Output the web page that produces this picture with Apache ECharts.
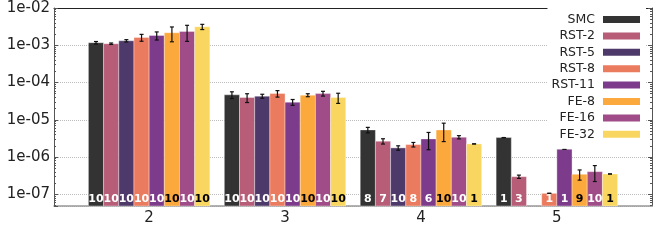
<!DOCTYPE html>
<html>
<head>
<meta charset="utf-8">
<script src="https://cdn.jsdelivr.net/npm/echarts@6/dist/echarts.min.js"></script>
<style>
html,body{margin:0;padding:0;background:#fff;}
#chart{width:664px;height:247px;}
</style>
</head>
<body>
<div id="chart"></div>
<script>
// ---- data ----
const categories = ['2', '3', '4', '5'];
const seriesNames = ['SMC', 'RST-2', 'RST-5', 'RST-8', 'RST-11', 'FE-8', 'FE-16', 'FE-32'];

const meanSMC  = [1.17e-3, 4.67e-5, 5.35e-6, 3.33e-6];
const errSMC   = [0.09e-3, 0.96e-5, 0.90e-6, 0];
const countSMC = [10, 10, 8, 1];

const meanRST2  = [1.10e-3, 3.95e-5, 2.66e-6, 2.97e-7];
const errRST2   = [0.05e-3, 1.05e-5, 0.43e-6, 0.30e-7];
const countRST2 = [10, 10, 7, 3];

const meanRST5  = [1.32e-3, 4.31e-5, 1.76e-6, null];
const errRST5   = [0.095e-3, 0.53e-5, 0.24e-6, null];
const countRST5 = [10, 10, 10, null];

const meanRST8  = [1.62e-3, 5.06e-5, 2.16e-6, 1.06e-7];
const errRST8   = [0.34e-3, 1.00e-5, 0.30e-6, 0];
const countRST8 = [10, 10, 8, 1];

const meanRST11  = [1.83e-3, 2.97e-5, 3.07e-6, 1.62e-6];
const errRST11   = [0.45e-3, 0.53e-5, 1.50e-6, 0];
const countRST11 = [10, 10, 6, 1];

const meanFE8  = [2.17e-3, 4.58e-5, 5.35e-6, 3.45e-7];
const errFE8   = [0.93e-3, 0.42e-5, 2.75e-6, 1.05e-7];
const countFE8 = [10, 10, 10, 9];

const meanFE16  = [2.35e-3, 5.06e-5, 3.41e-6, 4.05e-7];
const errFE16   = [1.08e-3, 0.74e-5, 0.34e-6, 1.85e-7];
const countFE16 = [10, 10, 10, 10];

const meanFE32  = [3.14e-3, 3.95e-5, 2.25e-6, 3.51e-7];
const errFE32   = [0.50e-3, 1.20e-5, 0, 0];
const countFE32 = [10, 10, 1, 1];

const yTickExponents = [-7, -6, -5, -4, -3, -2];

// ---- style ----
const colors = ['#333333', '#b75d78', '#4e3a6a', '#eb7b5f', '#7c3b8b', '#fba83c', '#a04c88', '#f9d65f'];
const labelColors = ['#fff', '#fff', '#fff', '#fff', '#fff', '#000', '#fff', '#000'];
const Y_MIN = 4.85e-8, Y_MAX = 1e-2;
const X_MIN = 1.3, X_MAX = 5.7;
const BAR_W = 0.1117;
const FONT = 'DejaVu Sans';

const means = [meanSMC, meanRST2, meanRST5, meanRST8, meanRST11, meanFE8, meanFE16, meanFE32];
const errs = [errSMC, errRST2, errRST5, errRST8, errRST11, errFE8, errFE16, errFE32];
const counts = [countSMC, countRST2, countRST5, countRST8, countRST11, countFE8, countFE16, countFE32];

const minorTicks = [];
for (let e = -8; e <= -3; e++) {
  for (let k = 2; k <= 9; k++) {
    const lv = e + Math.log10(k);
    if (lv > Math.log10(Y_MIN) && lv < -2) minorTicks.push(lv);
  }
}

function makeRender(s) {
  return function (params, api) {
    const x = api.value(0), v = api.value(1), e = api.value(2), n = api.value(3);
    if (v == null || isNaN(v)) return null;
    const top = api.coord([x, v]);
    const unit = api.coord([x + 1, v])[0] - top[0];
    const bw = unit * BAR_W;
    const left = top[0] + (s - 4) * bw;
    const cs = params.coordSys;
    const bottom = cs.y + cs.height;
    const cx = left + bw / 2;
    const yHi = api.coord([x, v + e])[1];
    const yLo = api.coord([x, Math.max(v - e, Y_MIN)])[1];
    const cap = 2;
    return {
      type: 'group',
      children: [
        {type: 'rect', shape: {x: left, y: top[1], width: bw, height: bottom - top[1]},
         style: {fill: colors[s], stroke: 'rgba(255,255,255,0.45)', lineWidth: 0.8}},
        {type: 'line', shape: {x1: cx, y1: yHi, x2: cx, y2: yLo}, style: {stroke: '#111', lineWidth: 1.2}},
        {type: 'line', shape: {x1: cx - cap, y1: yHi, x2: cx + cap, y2: yHi}, style: {stroke: '#111', lineWidth: 1.2}},
        {type: 'line', shape: {x1: cx - cap, y1: yLo, x2: cx + cap, y2: yLo}, style: {stroke: '#111', lineWidth: 1.2}},
        {type: 'text', x: cx, y: bottom - 6.5,
         style: {text: String(n), fill: labelColors[s], font: 'bold 11px "' + FONT + '"', align: 'center', verticalAlign: 'middle'}}
      ]
    };
  };
}

const series = seriesNames.map(function (name, s) {
  return {
    type: 'custom',
    name: name,
    xAxisIndex: 0,
    yAxisIndex: 0,
    itemStyle: {color: colors[s]},
    encode: {x: 0, y: 1},
    data: categories.map(function (c, i) {
      return [Number(c), means[s][i], errs[s][i], counts[s][i]];
    }),
    renderItem: makeRender(s)
  };
});

function fmtExp(v) {
  const e = Math.log10(v);
  const r = Math.round(e);
  if (Math.abs(e - r) > 1e-6) return '';
  const a = Math.abs(r);
  return '1e' + (r < 0 ? '-' : '+') + (a < 10 ? '0' + a : String(a));
}

const chart = echarts.init(document.getElementById('chart'), null, {renderer: 'canvas'});
chart.setOption({
  animation: false,
  backgroundColor: '#fff',
  textStyle: {fontFamily: FONT},
  grid: {left: 54, right: 12, top: 8, bottom: 41, containLabel: false},
  legend: {
    orient: 'vertical',
    align: 'right',
    right: 18,
    top: 5,
    padding: [8, 6, 8, 4],
    itemGap: 3.4,
    itemWidth: 37,
    itemHeight: 7,
    icon: 'rect',
    backgroundColor: '#fff',
    data: seriesNames,
    textStyle: {fontFamily: FONT, fontSize: 12.5, color: '#222', padding: [0, 3, 0, 0]}
  },
  xAxis: [
    {
      type: 'value', min: X_MIN, max: X_MAX, position: 'bottom',
      axisLine: {show: true, lineStyle: {color: '#999', width: 1.5}},
      axisTick: {show: false},
      splitLine: {show: false},
      axisLabel: {
        customValues: categories.map(Number),
        formatter: function (v) { return String(Math.round(v)); },
        fontFamily: FONT, fontSize: 15, color: '#222', margin: 5
      }
    },
    {
      type: 'value', min: X_MIN, max: X_MAX, position: 'top',
      axisLine: {show: true, lineStyle: {color: '#222', width: 1}},
      axisTick: {show: false}, axisLabel: {show: false}, splitLine: {show: false}
    }
  ],
  yAxis: [
    {
      type: 'log', min: Y_MIN, max: Y_MAX, position: 'left',
      axisLine: {show: true, lineStyle: {color: '#555', width: 1}},
      axisTick: {show: true, inside: true, length: 4, lineStyle: {color: '#555'}},
      splitLine: {show: true, lineStyle: {color: '#bbb', type: [1, 1], width: 1}},
      axisLabel: {formatter: fmtExp, fontFamily: FONT, fontSize: 15, color: '#222', margin: 4}
    },
    {
      type: 'value', min: Math.log10(Y_MIN), max: -2, position: 'left',
      axisLine: {show: false}, axisLabel: {show: false}, splitLine: {show: false},
      axisTick: {show: true, inside: true, length: 2, customValues: minorTicks, lineStyle: {color: '#555'}}
    },
    {
      type: 'value', min: Math.log10(Y_MIN), max: -2, position: 'right',
      axisLine: {show: true, lineStyle: {color: '#555', width: 1}}, axisLabel: {show: false}, splitLine: {show: false},
      axisTick: {show: true, inside: true, length: 2, customValues: minorTicks, lineStyle: {color: '#555'}}
    },
    {
      type: 'value', min: Math.log10(Y_MIN), max: -2, position: 'right',
      axisLine: {show: false}, axisLabel: {show: false}, splitLine: {show: false},
      axisTick: {show: true, inside: true, length: 4, customValues: yTickExponents, lineStyle: {color: '#555'}}
    }
  ],
  series: series
});
</script>
</body>
</html>
